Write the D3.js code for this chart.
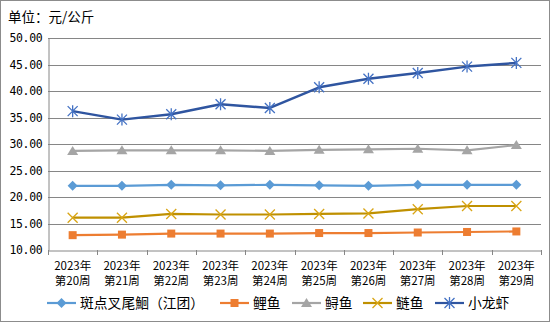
<!DOCTYPE html>
<html><head><meta charset="utf-8">
<script src="https://cdn.jsdelivr.net/npm/d3@7"></script>
<style>body{margin:0;background:#fff}svg{display:block}</style>
</head><body><svg id="c" width="550" height="322"></svg>
<script>
const categories = ["第20周","第21周","第22周","第23周","第24周","第25周","第26周","第27周","第28周","第29周"];
const yearLabel = "2023年";
const yTicks = [10,15,20,25,30,35,40,45,50];
const seriesNames = ["斑点叉尾鮰（江团）","鲤鱼","鲟鱼","鲢鱼","小龙虾"];
const catfish = [22.1,22.1,22.3,22.2,22.3,22.2,22.1,22.3,22.3,22.3];
const carp = [12.8,12.9,13.1,13.1,13.1,13.2,13.2,13.3,13.4,13.5];
const sturgeon = [28.7,28.8,28.8,28.8,28.7,28.9,29.0,29.1,28.8,29.8];
const silverCarp = [16.1,16.1,16.8,16.7,16.7,16.8,16.9,17.7,18.3,18.3];
const crayfish = [36.2,34.6,35.6,37.5,36.8,40.7,42.3,43.4,44.6,45.3];

const styles = [
  {line:"#5B9BD5", mark:"#5B9BD5", shape:"diamond"},
  {line:"#ED7D31", mark:"#ED7D31", shape:"square"},
  {line:"#A5A5A5", mark:"#A5A5A5", shape:"triangle"},
  {line:"#BF9000", mark:"#D9A515", shape:"x"},
  {line:"#2F55A0", mark:"#4472C4", shape:"star"}
];
const data = [catfish, carp, sturgeon, silverCarp, crayfish];

const svg = d3.select("#c");
const font = "'Noto Sans CJK SC', sans-serif";
svg.append("rect").attr("x",0.5).attr("y",0.5).attr("width",549).attr("height",321)
  .attr("fill","#fff").attr("stroke","#8c8c8c");

const L=48, R=541, T=38, B=250;
const x = d3.scaleBand().domain(categories).range([L,R]);
const y = d3.scaleLinear().domain([10,50]).range([B,T]);

svg.append("text").attr("x",8).attr("y",22).attr("font-family",font).attr("font-size",13.5)
  .attr("fill","#000").text("单位：元/公斤");

// grid
svg.append("g").selectAll("line").data(yTicks.filter(d=>d>10)).join("line")
  .attr("x1",L).attr("x2",R).attr("y1",d=>Math.round(y(d))+0.5).attr("y2",d=>Math.round(y(d))+0.5)
  .attr("stroke","#868686").attr("stroke-width",1);

// y axis
const ya = svg.append("g").attr("transform",`translate(${L+0.5},0)`)
  .call(d3.axisLeft(y).tickValues(yTicks).tickFormat(d3.format(".2f")).tickSize(0).tickPadding(6));
ya.select(".domain").attr("stroke","#868686");
ya.selectAll("text").attr("font-family","'DejaVu Sans Mono', monospace").attr("font-size",11.5).attr("fill","#000")
  .attr("letter-spacing","-0.3");

// x axis
const xa = svg.append("g").attr("transform",`translate(0,${B+0.5})`)
  .call(d3.axisBottom(x).tickSize(0).tickFormat(""));
xa.select(".domain").attr("stroke","#868686");
svg.append("g").selectAll("line").data(d3.range(categories.length+1)).join("line")
  .attr("x1",i=>Math.round(L+i*x.bandwidth())+0.5).attr("x2",i=>Math.round(L+i*x.bandwidth())+0.5)
  .attr("y1",B).attr("y2",B+5).attr("stroke","#868686");
const xl = svg.append("g").selectAll("text").data(categories).join("text")
  .attr("x",d=>x(d)+x.bandwidth()/2).attr("text-anchor","middle")
  .attr("font-family",font).attr("font-size",11.5).attr("fill","#000");
xl.append("tspan").attr("x",d=>x(d)+x.bandwidth()/2).attr("y",270).text(yearLabel);
xl.append("tspan").attr("x",d=>x(d)+x.bandwidth()/2).attr("y",284.5).text(d=>d);

function marker(g, shape, color, cx, cy){
  if(shape==="diamond"){
    g.append("path").attr("d",`M${cx},${cy-5}L${cx+5},${cy}L${cx},${cy+5}L${cx-5},${cy}Z`).attr("fill",color);
  } else if(shape==="square"){
    g.append("rect").attr("x",cx-4).attr("y",cy-4).attr("width",8).attr("height",8).attr("fill",color);
  } else if(shape==="triangle"){
    g.append("path").attr("d",`M${cx},${cy-5}L${cx+5.5},${cy+4}L${cx-5.5},${cy+4}Z`).attr("fill",color);
  } else if(shape==="x"){
    g.append("path").attr("d",`M${cx-5},${cy-5}L${cx+5},${cy+5}M${cx+5},${cy-5}L${cx-5},${cy+5}`).attr("stroke",color).attr("stroke-width",1.3);
  } else if(shape==="star"){
    g.append("path").attr("d",`M${cx-5},${cy-5}L${cx+5},${cy+5}M${cx+5},${cy-5}L${cx-5},${cy+5}M${cx},${cy-6}L${cx},${cy+6}`).attr("stroke",color).attr("stroke-width",1.3);
  }
}

const line = d3.line().x((d,i)=>x(categories[i])+x.bandwidth()/2).y(d=>y(d));
data.forEach((vals,si)=>{
  const st = styles[si];
  const g = svg.append("g");
  g.append("path").datum(vals).attr("d",line).attr("fill","none").attr("stroke",st.line)
    .attr("stroke-width",si===4?2.5:2.2).attr("stroke-linejoin","round");
  vals.forEach((v,i)=>marker(g, st.shape, st.mark, x(categories[i])+x.bandwidth()/2, y(v)));
});

// legend
const legX = [47,220,292,363,435];
seriesNames.forEach((n,i)=>{
  const st = styles[i];
  const g = svg.append("g");
  const cy = 303;
  g.append("line").attr("x1",legX[i]).attr("x2",legX[i]+29).attr("y1",cy).attr("y2",cy)
    .attr("stroke",st.line).attr("stroke-width",2.2);
  marker(g, st.shape, st.mark, legX[i]+14.5, cy);
  g.append("text").attr("x",legX[i]+33).attr("y",cy+5).attr("font-family",font).attr("font-size",13.8)
    .attr("fill","#000").text(n);
});
</script></body></html>
